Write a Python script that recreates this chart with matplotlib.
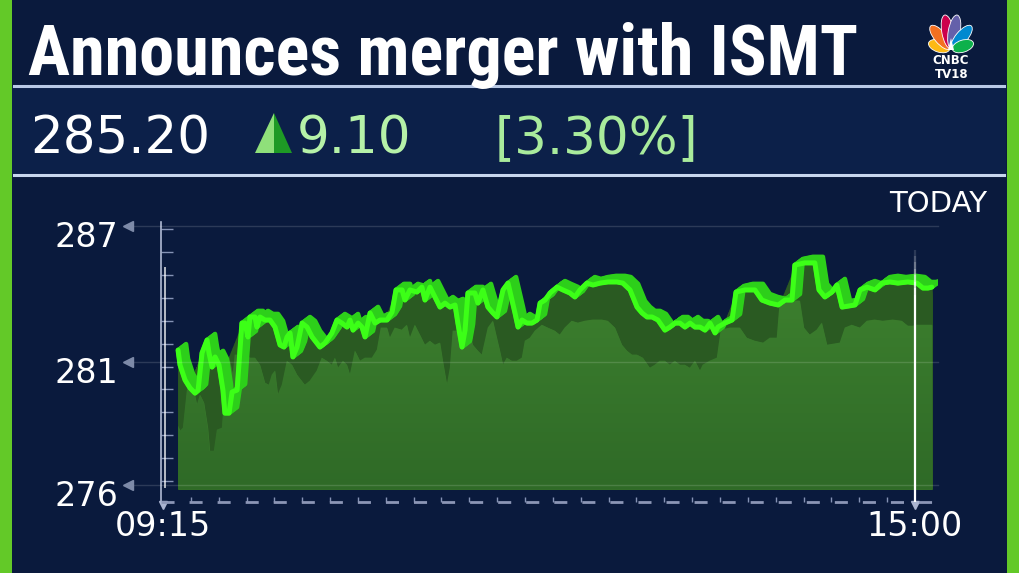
import numpy as np
import matplotlib.pyplot as plt
import matplotlib.transforms as mtransforms
from matplotlib.patches import Rectangle, Polygon, Ellipse
from matplotlib.lines import Line2D
from matplotlib.collections import LineCollection
from matplotlib.colors import LinearSegmentedColormap

OUTPUT_FILE = "out.png"
W, H = 1019, 573

TITLE = "Announces merger with ISMT"
LAST_PRICE = "285.20"
CHANGE = "9.10"
CHANGE_PCT = "[3.30%]"
PERIOD_LABEL = "TODAY"
LOGO_TOP = "CNBC"
LOGO_BOTTOM = "TV18"

# minutes after 09:15 and traded price
minutes = [6.9, 7.8, 10.1, 12.4, 14.7, 16.1, 17.9, 20.2, 21.1, 22.5, 23.9, 25.7, 27.5, 28.4,
           30.3, 31.7, 34.0, 35.3, 36.2, 37.6, 39.0, 39.9, 42.2, 43.1, 44.5, 46.8, 49.1, 51.4,
           53.7, 55.5, 56.9, 58.3, 59.6, 61.5, 63.8, 66.1, 68.4, 72.0, 74.3, 77.5, 79.8, 82.1,
           84.4, 85.8, 87.2, 89.5, 91.3, 92.7, 95.0, 97.3, 99.6, 102.8, 105.1, 106.9, 109.7,
           111.0, 113.3, 116.5, 118.8, 120.2, 122.5, 124.8, 127.1, 129.4, 131.7, 134.0, 135.3,
           137.2, 138.6, 139.9, 143.1, 144.5, 146.8, 149.1, 151.4, 153.2, 156.0, 158.3, 160.1,
           161.5, 162.9, 164.7, 167.0, 169.3, 171.6, 173.0, 175.3, 177.6, 180.8, 183.5, 186.7,
           189.0, 191.3, 194.5, 197.3, 200.5, 204.2, 208.3, 211.0, 214.3, 217.5, 219.8, 222.1,
           224.4, 227.1, 230.3, 232.6, 234.9, 237.2, 239.5, 241.8, 244.1, 246.4, 248.7, 251.0,
           253.3, 254.6, 257.8, 261.1, 262.9, 267.0, 271.6, 274.8, 278.5, 282.3, 285.4, 288.6,
           289.9, 294.5, 299.1, 301.0, 303.7, 306.9, 309.2, 311.6, 317.5, 319.8, 323.0, 326.7,
           329.9, 333.5, 337.2, 341.8, 345.9, 348.7, 351.0, 352.8]
prices = [281.52, 280.89, 280.25, 279.91, 279.69, 279.82, 281.40, 281.95, 281.40, 280.80, 281.23,
          280.89, 279.82, 278.84, 278.84, 279.74, 279.82, 281.52, 282.67, 282.67, 282.08, 282.93,
          282.93, 282.50, 282.93, 282.80, 282.80, 282.50, 281.74, 281.65, 282.08, 282.25, 281.23,
          281.65, 282.67, 282.50, 282.08, 281.65, 281.82, 282.25, 282.80, 282.67, 282.50, 282.80,
          282.37, 282.67, 282.50, 282.08, 283.10, 282.67, 282.80, 282.80, 283.14, 284.08, 284.08,
          283.65, 284.08, 283.99, 284.20, 283.65, 284.20, 283.78, 283.35, 283.52, 283.35, 283.44,
          282.67, 281.65, 282.37, 283.95, 283.95, 283.52, 284.08, 283.35, 283.10, 282.93, 284.08,
          284.37, 283.65, 283.10, 282.50, 282.80, 282.67, 282.67, 282.80, 283.52, 283.65, 283.95,
          284.20, 284.08, 283.95, 283.78, 284.08, 284.37, 284.29, 284.37, 284.42, 284.42, 284.37,
          284.08, 283.35, 283.10, 282.93, 282.93, 282.80, 282.37, 282.50, 282.67, 282.67, 282.50,
          282.67, 282.50, 282.50, 282.37, 282.67, 282.25, 282.50, 282.67, 282.80, 283.99, 284.08,
          284.08, 283.65, 283.52, 283.44, 283.65, 283.65, 285.14, 285.23, 285.23, 284.08, 283.78,
          283.99, 284.29, 283.35, 283.44, 284.08, 284.20, 284.08, 284.37, 284.42, 284.37, 284.42,
          284.37, 284.16, 284.16, 284.20]

y_ticks = [286.8, 281.0, 275.8]
y_tick_labels = ["287", "281", "276"]
x_ticks = [0, 345]
x_tick_labels = ["09:15", "15:00"]

BG = "#0a1a3d"
PANEL = "#0c2049"
BORDER = "#63c928"
LINE = "#3cff17"
FACE = "#2dcf1a"
WALL = "#2a5a22"


def fx(x):
    return x / W


def fy(y):
    return 1 - y / H


def fit_width(txt, target_px):
    r = fig.canvas.get_renderer()
    w = txt.get_window_extent(renderer=r).width
    txt.set_fontsize(txt.get_fontsize() * target_px / w)


fig = plt.figure(figsize=(W / 100, H / 100), dpi=100, facecolor=BG)

# green side strips
fig.add_artist(Rectangle((0, 0), fx(12), 1, transform=fig.transFigure, color=BORDER, lw=0))
fig.add_artist(Rectangle((fx(1007), 0), fx(12), 1, transform=fig.transFigure, color=BORDER, lw=0))

# price panel
fig.add_artist(Rectangle((fx(12), fy(176)), fx(994), 90 / H, transform=fig.transFigure,
                         facecolor=PANEL, lw=0))
fig.add_artist(Line2D([fx(14), fx(1004)], [fy(86)] * 2, color="#b9c9e6", lw=2.2))
fig.add_artist(Line2D([fx(14), fx(1004)], [fy(175)] * 2, color="#c8d6ee", lw=2.2))

# title (condensed bold if available)
title = fig.text(fx(28), fy(75), TITLE, color="white", fontsize=50, fontweight="bold",
                 fontstretch="condensed",
                 family=["Roboto Condensed", "Liberation Sans Narrow", "DejaVu Sans"],
                 ha="left", va="baseline")
fit_width(title, 830)

# price line
price_txt = fig.text(fx(30), fy(153), LAST_PRICE, color="white", fontsize=38,
                     ha="left", va="baseline")
fit_width(price_txt, 180)
fs = price_txt.get_fontsize()
fig.text(fx(297), fy(153), CHANGE, color="#b6f2a8", fontsize=fs, ha="left", va="baseline")
fig.text(fx(495), fy(153), CHANGE_PCT, color="#a9eb9c", fontsize=fs, ha="left", va="baseline")

# up arrow
fig.add_artist(Polygon([(fx(255), fy(153)), (fx(274), fy(113)), (fx(274), fy(153))],
                       closed=True, transform=fig.transFigure, color="#8fe07a", lw=0))
fig.add_artist(Polygon([(fx(274), fy(113)), (fx(292), fy(153)), (fx(274), fy(153))],
                       closed=True, transform=fig.transFigure, color="#1e9a25", lw=0))

fig.text(fx(987), fy(212), PERIOD_LABEL, color="white", fontsize=21, ha="right", va="baseline")

# ---- chart ----
ax = fig.add_axes([fx(161), fy(502), fx(938) - fx(161), (502 - 222) / H])
ax.set_facecolor(BG)
ax.patch.set_alpha(0)
XLIM = (-0.92, 355.6)
YLIM = (275.06, 286.97)
BASE = 275.61

t = np.array(minutes)
p = np.array(prices)

WALL_DX, WALL_DY = -7.0, -1.6
FACE_DX, FACE_DY = 3.7, 0.26


def shifted(s, dx, dy):
    xx = np.clip(t + s * dx, t[0], t[-1])
    yy = p + s * dy
    xx = np.concatenate([[t[0]], xx, [t[-1]]])
    yy = np.concatenate([[yy[0]], yy, [yy[-1]]])
    return xx, yy


# dark wall under the ribbon
for s in np.linspace(0, 1, 30):
    xx, yy = shifted(s, WALL_DX, WALL_DY)
    ax.fill_between(xx, yy, BASE, color=WALL, lw=0, zorder=2)

# front area
xx, yy = shifted(1, WALL_DX, WALL_DY)
area = ax.fill_between(xx, yy, BASE, color="#3a7b2d", lw=0, zorder=3)
cmap = LinearSegmentedColormap.from_list("area", ["#2f6a27", "#3e822f"])
grad = np.linspace(0, 1, 256).reshape(-1, 1)
im = ax.imshow(grad, extent=[t[0], t[-1], BASE, p.max()], origin="lower", cmap=cmap,
               aspect="auto", zorder=3.1)
im.set_clip_path(area.get_paths()[0], ax.transData)

# ribbon top face and the line
for s in np.linspace(0, 1, 12):
    ax.plot(t + s * FACE_DX, p + s * FACE_DY, color=FACE, lw=3.2, zorder=4,
            solid_joinstyle="round", solid_capstyle="round")
ax.plot(t, p, color=LINE, lw=3.6, zorder=5, solid_joinstyle="round", solid_capstyle="round")

ax.set_xlim(*XLIM)
ax.set_ylim(*YLIM)

# grid lines and left arrows
blend_y = mtransforms.blended_transform_factory(ax.transAxes, ax.transData)
for v in y_ticks:
    ax.plot([-0.04, 1.0], [v, v], transform=blend_y, color="white", alpha=0.14, lw=1,
            clip_on=False, zorder=6)
    ax.plot([-0.042], [v], transform=blend_y, marker="<", ms=7, color="#7d8aa8",
            clip_on=False, zorder=6)

blend_x = mtransforms.blended_transform_factory(ax.transData, ax.transAxes)
for v in x_ticks:
    ax.plot([v], [-0.012], transform=blend_x, marker="v", ms=6, color="#aab4d0",
            clip_on=False, zorder=6)

# 15:00 marker line with fading top
yl = np.linspace(YLIM[0], 285.8, 40)
segs = [[(x_ticks[-1], yl[i]), (x_ticks[-1], yl[i + 1])] for i in range(len(yl) - 1)]
alphas = np.clip((285.8 - yl[:-1]) / 2.0, 0, 1)
ax.add_collection(LineCollection(segs, colors=[(1, 1, 1, a) for a in alphas], lw=1.6,
                                 zorder=7))

# axes styling
for side in ["top", "right", "bottom"]:
    ax.spines[side].set_visible(False)
ax.spines["left"].set_color("#b0bad4")
ax.spines["left"].set_linewidth(1.2)
ax.plot([0.005, 0.005], [275.7, 285.0], transform=blend_y, color="white", alpha=0.7,
        lw=1.4, zorder=6)
ax.plot([0, 1], [0, 0], transform=ax.transAxes, color="#8c96b6", lw=2,
        dashes=(4.7, 5.4), clip_on=False, zorder=6)

ax.set_yticks(y_ticks, y_tick_labels)
ax.set_yticks(np.linspace(286.67, 275.95, 12), minor=True)
ax.set_xticks(x_ticks, x_tick_labels)
ax.set_xticks(np.linspace(0, 345, 28), minor=True)
ax.tick_params(axis="y", which="major", length=0, pad=31, labelsize=24, labelcolor="white")
ax.tick_params(axis="x", which="major", length=0, pad=6, labelsize=24, labelcolor="white")
ax.tick_params(axis="y", which="minor", direction="in", length=8.6, width=1, color="#8593b5")
ax.tick_params(axis="x", which="minor", direction="in", length=3.5, width=1, color="#8593b5")
offset = mtransforms.ScaledTranslation(0, -0.08, fig.dpi_scale_trans)
for lab in ax.get_yticklabels():
    lab.set_transform(lab.get_transform() + offset)

# ---- logo ----
lax = fig.add_axes([fx(925), fy(82), 53 / W, 72 / H])
lax.set_xlim(0, 53)
lax.set_ylim(0, 72)
lax.axis("off")
petal_angles = [162, 130, 100, 80, 50, 18]
petal_lengths = [22, 30, 34, 34, 30, 22]
petal_colors = ["#fdb913", "#f37021", "#cc004c", "#6460aa", "#0089d0", "#0db14b"]
cx, cy = 26, 32
for a, ln, c in zip(petal_angles, petal_lengths, petal_colors):
    d = ln / 2 + 1.5
    ex = cx + d * np.cos(np.radians(a))
    ey = cy + d * np.sin(np.radians(a))
    lax.add_patch(Ellipse((ex, ey), ln, 12, angle=a, facecolor=c, edgecolor="white", lw=0.6))
lax.add_patch(Polygon([(cx - 3, cy), (cx + 3, cy), (cx, cy + 12)], color="white", lw=0))
lax.text(cx, 21, LOGO_TOP, color="white", fontsize=8.5, fontweight="heavy",
         ha="center", va="center")
lax.text(cx + 1, 7, LOGO_BOTTOM, color="white", fontsize=8.5, fontweight="heavy",
         ha="center", va="center")

fig.savefig(OUTPUT_FILE, dpi=100, facecolor=fig.get_facecolor())
